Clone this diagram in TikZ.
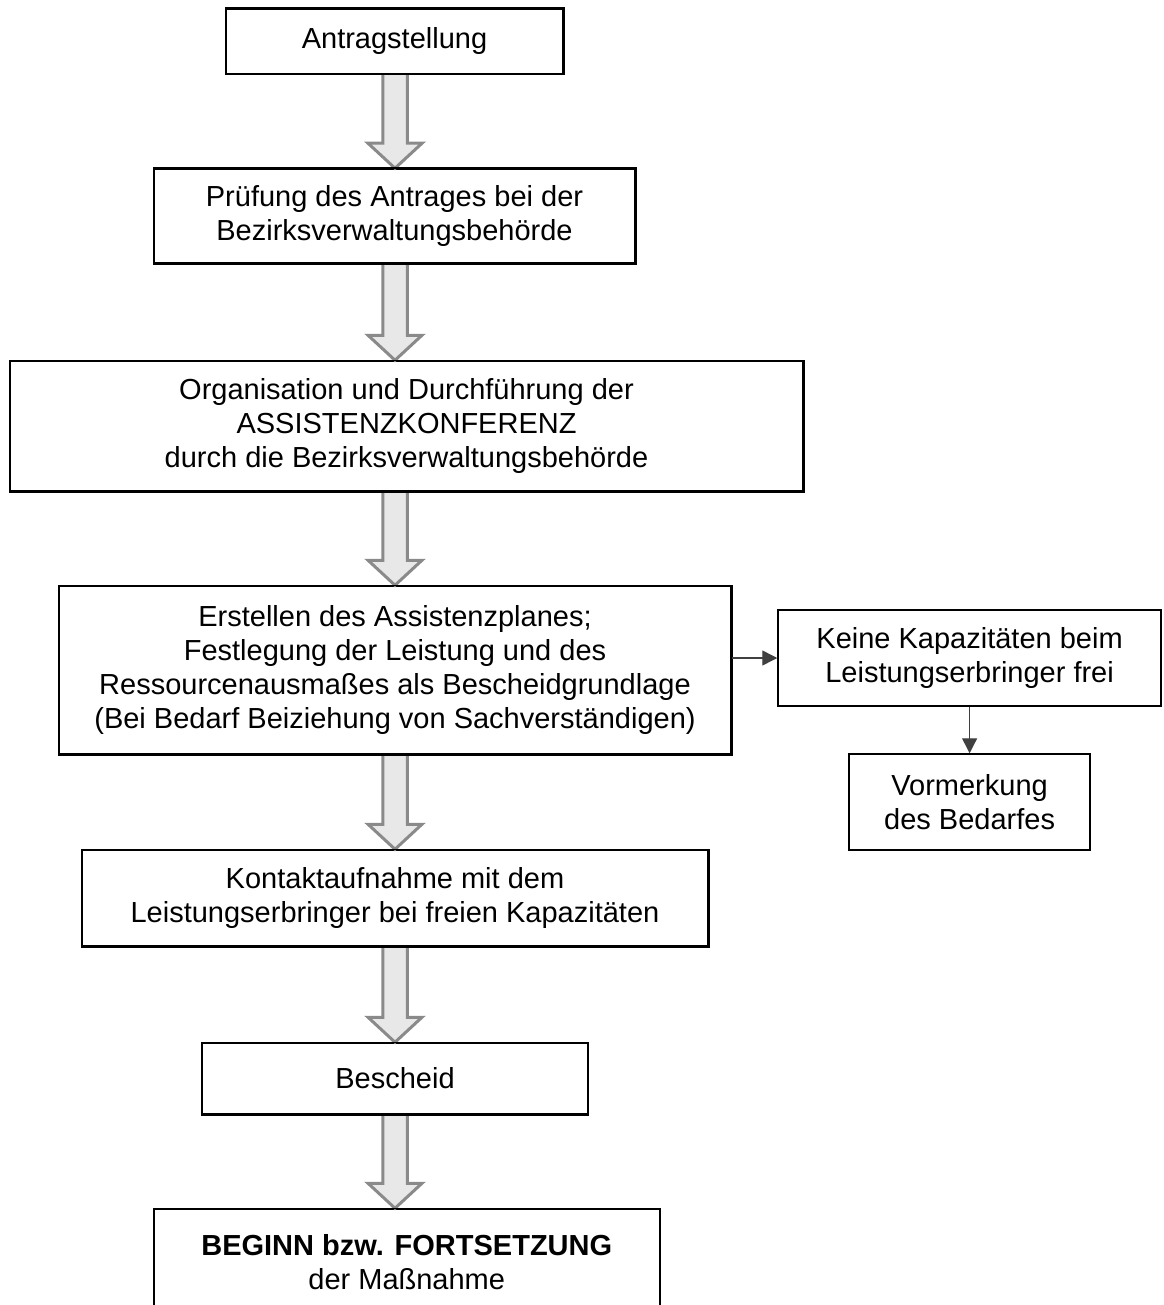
\documentclass[tikz,border=0pt]{standalone}
\usepackage{fontspec}
\setmainfont{Liberation Sans}
\usetikzlibrary{calc,arrows.meta}
\definecolor{arrfill}{HTML}{E8E8E8}
\definecolor{arrline}{HTML}{8A8A8A}
\definecolor{thinline}{HTML}{404040}
\tikzset{
  flowbox/.style={draw=black, fill=white, line width=0.75pt, inner sep=0pt, align=center,
    font=\fontsize{14.5pt}{17pt}\selectfont},
  blockarr/.style={draw=arrline, fill=arrfill, line width=1.5pt, line join=miter},
  smallarr/.style={draw=thinline, line width=0.7pt, -{Triangle[length=7.5pt,width=7.5pt]}}
}
\begin{document}
\begin{tikzpicture}[x=0.5pt, y=-0.5pt]
\useasboundingbox (0,0) rectangle (1163,1305);
\clip (0,0) rectangle (1163,1305);
\coordinate (axis) at (395,0);

% nodes (centre, size in px)
\node[flowbox, minimum width=168.5pt, minimum height=32.5pt] (antrag) at (394.5,41.5) {Antragstellung};
\node[flowbox, minimum width=240.5pt, minimum height=47pt] (pruef) at (394.5,216) {Prüfung des Antrages bei der\\Bezirksverwaltungsbehörde};
\node[flowbox, minimum width=396.5pt, minimum height=65pt] (org) at (406.5,426) {Organisation und Durchführung der\\ASSISTENZKONFERENZ\\durch die Bezirksverwaltungsbehörde};
\node[flowbox, minimum width=336pt, minimum height=84pt] (erst) at (395,670) {Erstellen des Assistenzplanes;\\Festlegung der Leistung und des\\Ressourcenausmaßes als Bescheidgrundlage\\(Bei Bedarf Beiziehung von Sachverständigen)};
\node[flowbox, minimum width=191.6pt, minimum height=48pt] (keine) at (969.6,658) {Keine Kapazitäten beim\\Leistungserbringer frei};
\node[flowbox, minimum width=120.5pt, minimum height=48pt] (vorm) at (969.6,802) {Vormerkung\\des Bedarfes};
\node[flowbox, minimum width=313pt, minimum height=48pt] (kontakt) at (395,898) {Kontaktaufnahme mit dem\\Leistungserbringer bei freien Kapazitäten};
\node[flowbox, minimum width=192.5pt, minimum height=35.5pt] (besch) at (395,1078.5) {Bescheid};
\node[flowbox, minimum width=252.75pt, minimum height=53pt] (final) at (406.75,1262) {\textbf{BEGINN bzw. FORTSETZUNG}\\der Maßnahme};

% block arrows
\foreach \a/\b in {antrag/pruef, pruef/org, org/erst, erst/kontakt, kontakt/besch, besch/final}{
  \coordinate (s) at (axis |- \a.south);
  \coordinate (t) at (axis |- \b.north);
  \path[blockarr] ($(s)+(-12.25,0)$) -- ($(t)+(-12.25,-25)$) -- ($(t)+(-27,-25)$) -- (t)
     -- ($(t)+(27,-25)$) -- ($(t)+(12.25,-25)$) -- ($(s)+(12.25,0)$);
}

% redraw boxes on top of arrow ends
\foreach \n in {antrag, pruef, org, erst, kontakt, besch, final}{
  \draw[line width=0.75pt] (\n.south west) rectangle (\n.north east);
}

% thin connectors
\draw[smallarr] (erst.east |- keine.west) -- (keine.west);
\draw[smallarr] (keine.south) -- (vorm.north);
\end{tikzpicture}
\end{document}
